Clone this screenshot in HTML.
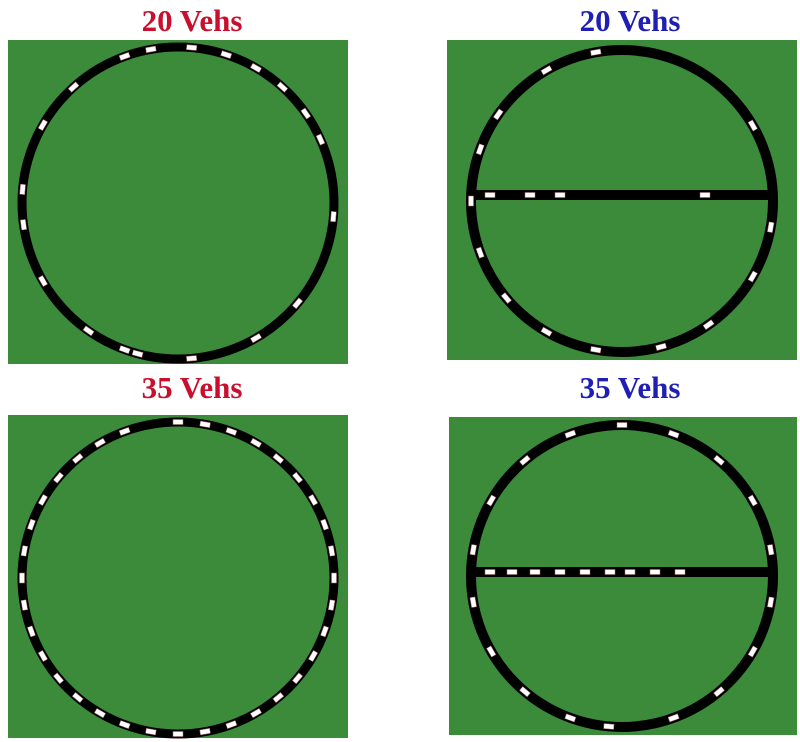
<!DOCTYPE html>
<html><head><meta charset="utf-8"><style>
body{margin:0;background:#fff;width:800px;height:742px;overflow:hidden}
svg{display:block}
</style></head><body>
<svg id="s" width="800" height="742">
<text x="192" y="31" font-family="Liberation Serif" font-size="31" font-weight="bold" fill="#c8102e" text-anchor="middle">20 Vehs</text>
<text x="630" y="31" font-family="Liberation Serif" font-size="31" font-weight="bold" fill="#1f1fb4" text-anchor="middle">20 Vehs</text>
<text x="192" y="398" font-family="Liberation Serif" font-size="31" font-weight="bold" fill="#c8102e" text-anchor="middle">35 Vehs</text>
<text x="630" y="398" font-family="Liberation Serif" font-size="31" font-weight="bold" fill="#1f1fb4" text-anchor="middle">35 Vehs</text>
<rect x="8" y="40" width="340" height="324" fill="#3b8b3b"/>
<rect x="447" y="40" width="350" height="320" fill="#3b8b3b"/>
<rect x="8" y="415" width="340" height="323" fill="#3b8b3b"/>
<rect x="449" y="417" width="348" height="318" fill="#3b8b3b"/>
<circle cx="178" cy="203" r="156" fill="none" stroke="#000" stroke-width="9"/>
<circle cx="622" cy="201" r="151" fill="none" stroke="#000" stroke-width="10"/>
<rect x="473" y="190" width="298" height="10" fill="#000"/>
<circle cx="178" cy="578" r="156" fill="none" stroke="#000" stroke-width="9"/>
<circle cx="622" cy="576" r="151" fill="none" stroke="#000" stroke-width="10"/>
<rect x="473" y="567" width="298" height="10" fill="#000"/>
<g id="cars"></g>
</svg>
<script>
const ring20=[5,18,30,42,55,66,95,130,150,175,195,215,240,262,275,300,318,340,350,200];
const ring35=[0,10,20,30,40,50,60,70,80,90,100,110,120,130,140,150,160,170,180,190,200,210,220,230,240,250,260,270,280,290,300,310,320,330,340];
const split20=[100,120,145,165,190,210,230,250,270,290,305,330,350,60];
const split20Bar=[490,530,560,705];
const split35=[0,20,40,60,80,100,120,140,160,185,200,220,240,260,280,300,320,340];
const split35Bar=[490,512,535,560,585,610,630,655,680];
const g=document.getElementById('cars');
function car(x,y,rot,name){
 const r=document.createElementNS('http://www.w3.org/2000/svg','rect');
 r.setAttribute('x',x-5);r.setAttribute('y',y-2.5);r.setAttribute('width',10);r.setAttribute('height',5);
 r.setAttribute('fill','#fff');r.setAttribute('stroke','#a66');r.setAttribute('stroke-width','0.5');
 r.setAttribute('transform','rotate('+rot+' '+x+' '+y+')');
 
 
 g.appendChild(r);
}
function ring(arr,cx,cy,R,name){arr.forEach(a=>{const t=a*Math.PI/180;car(cx+R*Math.sin(t),cy-R*Math.cos(t),a,name);});}
ring(ring20,178,203,156,'vehicle-ring-20');
ring(ring35,178,578,156,'vehicle-ring-35');
ring(split20,622,201,151,'vehicle-split-20');
ring(split35,622,576,151,'vehicle-split-35');
split20Bar.forEach(x=>car(x,195,0,'vehicle-cross-20'));
split35Bar.forEach(x=>car(x,572,0,'vehicle-cross-35'));
</script>
</body></html>
